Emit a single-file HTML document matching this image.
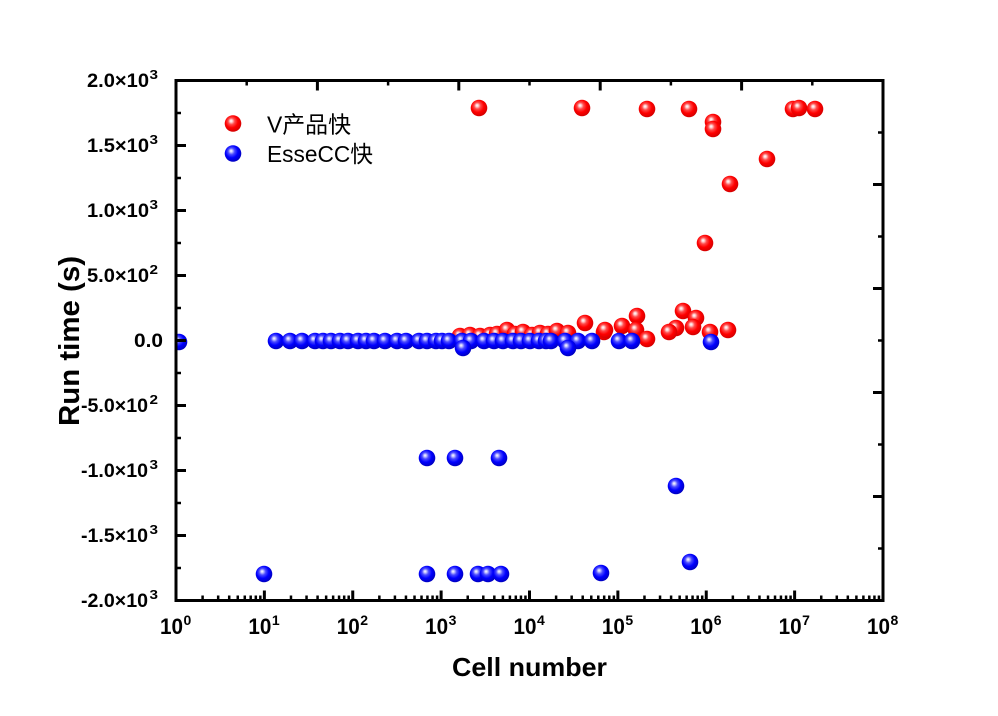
<!DOCTYPE html>
<html><head><meta charset="utf-8">
<style>
html,body{margin:0;padding:0;background:#fff;}
svg{display:block;}
text{font-family:"Liberation Sans","Noto Sans CJK SC",sans-serif;fill:#000;}
.b{font-weight:bold;}
</style></head>
<body>
<svg width="998" height="716" viewBox="0 0 998 716" xmlns="http://www.w3.org/2000/svg">
<defs>
<radialGradient id="gr" cx="0.45" cy="0.42" r="0.62" fx="0.38" fy="0.34">
<stop offset="0" stop-color="#ffffff"/>
<stop offset="0.12" stop-color="#ffd4d4"/>
<stop offset="0.32" stop-color="#ff4a4a"/>
<stop offset="0.6" stop-color="#ff0000"/>
<stop offset="1" stop-color="#cc0000"/>
</radialGradient>
<radialGradient id="gb" cx="0.45" cy="0.42" r="0.62" fx="0.38" fy="0.34">
<stop offset="0" stop-color="#ffffff"/>
<stop offset="0.12" stop-color="#c8c8ff"/>
<stop offset="0.32" stop-color="#4a4aff"/>
<stop offset="0.6" stop-color="#0000ff"/>
<stop offset="1" stop-color="#0000b4"/>
</radialGradient>
<clipPath id="cp"><rect x="176" y="80.5" width="707" height="520"/></clipPath>
</defs>
<rect width="998" height="716" fill="#fff"/>
<g clip-path="url(#cp)" id="pts"></g>

<g id="axes" stroke="#000" fill="none"></g>

<g id="labels"></g>

<!-- legend -->
<circle cx="233" cy="123.5" r="8.3" fill="url(#gr)"/>
<circle cx="233" cy="153.5" r="8.3" fill="url(#gb)"/>
<text x="267" y="132.5" font-size="23" textLength="84" lengthAdjust="spacingAndGlyphs">V产品快</text>
<text x="267" y="162" font-size="23" textLength="106" lengthAdjust="spacingAndGlyphs">EsseCC快</text>

<!-- axis titles -->
<text class="b" x="452" y="676" font-size="26" textLength="155" lengthAdjust="spacingAndGlyphs">Cell number</text>
<text class="b" transform="translate(79,341) rotate(-90)" text-anchor="middle" font-size="29" textLength="170" lengthAdjust="spacingAndGlyphs">Run time (s)</text>

<script>
(function(){
var NS="http://www.w3.org/2000/svg";
function el(tag,attrs,parent,txt){var e=document.createElementNS(NS,tag);for(var k in attrs)e.setAttribute(k,attrs[k]);if(txt!==undefined)e.textContent=txt;parent.appendChild(e);return e;}
var pts=document.getElementById('pts');
var red=[[479,108],[582,108],[647,109],[689,109],[713,122],[713,129],[793,109],[799,108],[815,109],
[767,159],[730,184],[705,243],
[460,336],[470,335],[480,336],[490,335],[497,334],[507,330],[515,334],[523,332],[532,335],[540,333],[548,334],[557,331],[568,333],
[585,323],[604,332],[605,330],[622,326],[637,316],[636,330],[647,339],
[683,311],[696,318],[693,327],[676,328],[669,332],[710,332],[728,330]];
var blue=[[179,342]];
var row=[276,290,302,315,323,331,340,348,358,366,374,385,397,406,419,427,436,442,449,462,471,484,494,503,513,521,530,539,546,551,565,578,592,619,632];
row.forEach(function(x){blue.push([x,341]);});
blue=blue.concat([[711,342],[463,348],[568,348],
[427,458],[455,458],[499,458],
[264,574],[427,574],[455,574],[478,574],[488,574],[501,574],[601,573],
[676,486],[690,562]]);
red.forEach(function(p){el('circle',{cx:p[0],cy:p[1],r:8.3,fill:'url(#gr)'},pts);});
blue.forEach(function(p){el('circle',{cx:p[0],cy:p[1],r:8.3,fill:'url(#gb)'},pts);});

var ax=document.getElementById('axes');
var L=176,R=883,T=80.5,B=600.5;
function line(x1,y1,x2,y2,w){el('line',{x1:x1,y1:y1,x2:x2,y2:y2,'stroke-width':w},ax);}
for(var k=0;k<=8;k++){var y=T+65*k;line(L,y,L+10,y,3);if(k<8){var ym=y+32.5;line(L,ym,L+5,ym,2.5);}}
for(var i=1;i<10;i++){var y2=T+52*i;line(R,y2,R-(i%2==0?10:5),y2,i%2==0?3:2.5);}
for(var i=1;i<10;i++){var x=L+70.7*i;line(x,T,x,T+(i%2==0?10:5),i%2==0?3:2.5);}
var D=88.375;
for(var d=0;d<8;d++){
  if(d>0)line(L+D*d,B,L+D*d,B-10,3);
  for(var m=2;m<=9;m++){var xm=L+D*(d+Math.log10(m));line(xm,B,xm,B-5,2.5);}
}
el('rect',{x:L,y:T,width:R-L,height:B-T,'stroke-width':3,fill:'none'},ax);

var lab=document.getElementById('labels');
var yl=[["2.0×10","3",0],["1.5×10","3",1],["1.0×10","3",2],["5.0×10","2",3],["0.0","",4],["-5.0×10","2",5],["-1.0×10","3",6],["-1.5×10","3",7],["-2.0×10","3",8]];
yl.forEach(function(a){
  var ty=T+65*a[2];
  if(a[1]===""){
    el('text',{x:134,y:ty+6.5,'font-size':19,'class':'b',textLength:29,lengthAdjust:'spacingAndGlyphs'},lab,a[0]);
  } else {
    var neg=a[0].charAt(0)==='-';
    var sx=neg?81:87, w=neg?67:62;
    el('text',{x:sx,y:ty+6.5,'font-size':19,'class':'b',textLength:w,lengthAdjust:'spacingAndGlyphs'},lab,a[0]);
    el('text',{x:149.5,y:ty-1.5,'font-size':13,'class':'b',textLength:8.5,lengthAdjust:'spacingAndGlyphs'},lab,a[1]);
  }
});
for(var d=0;d<=8;d++){
  var tx=L+D*d;
  el('text',{x:tx-16,y:634,'font-size':22,'class':'b',textLength:23,lengthAdjust:'spacingAndGlyphs'},lab,"10");
  el('text',{x:tx+7.5,y:625,'font-size':14,'class':'b'},lab,String(d));
}
})();
</script>
</svg>
</body></html>
